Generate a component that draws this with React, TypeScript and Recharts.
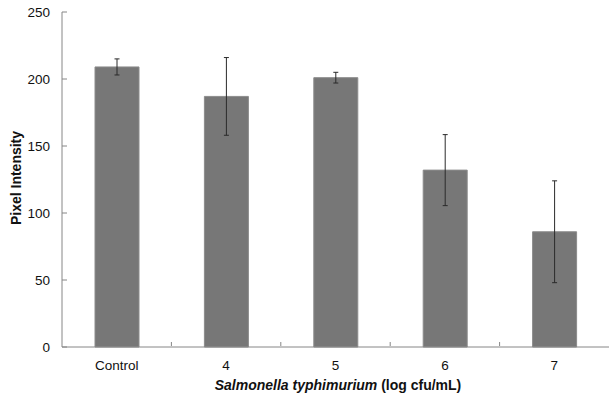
import React from 'react';
import { BarChart, Bar, XAxis, YAxis, ErrorBar } from 'recharts';

const categories = ['Control', '4', '5', '6', '7'];
const intensity = [209, 187, 201, 132, 86];
const errors = [6, 29, 4, 26.5, 38];
const yTicks = [0, 50, 100, 150, 200, 250];

const data = categories.map((name, i) => ({ name, value: intensity[i], err: errors[i] }));

const W = 611;
const H = 402;
const LEFT = 62;
const RIGHT = 2;
const BAND = (W - LEFT - RIGHT) / categories.length;
const FONT = 'Liberation Sans, Arial, sans-serif';

const YTick = (props: any) => {
  const { x, y, payload } = props;
  return (
    <g>
      <line x1={x + 12} y1={y} x2={x + 17} y2={y} stroke="#868686" />
      <text x={x} y={y} dy="0.35em" textAnchor="end" fontSize={13.5} fill="#111" fontFamily={FONT}>
        {payload.value}
      </text>
    </g>
  );
};

const XTick = (props: any) => {
  const { x, y, payload, index } = props;
  return (
    <g>
      {index < categories.length - 1 && (
        <line x1={x + BAND / 2} y1={y - 14} x2={x + BAND / 2} y2={y - 18} stroke="#868686" />
      )}
      <text x={x} y={y} dy="0.71em" textAnchor="middle" fontSize={13.5} fill="#111" fontFamily={FONT}>
        {payload.value}
      </text>
    </g>
  );
};

const App: React.FC = () => {
  return (
    <div style={{ position: 'absolute', left: 0, top: 0, width: W, height: H, background: '#fff' }}>
      <BarChart width={W} height={H} data={data} margin={{ top: 12, right: RIGHT, left: 0, bottom: 0 }}>
        <XAxis
          dataKey="name"
          height={55}
          axisLine={{ stroke: '#868686' }}
          tickLine={false}
          tickSize={0}
          tickMargin={13}
          tick={<XTick />}
          interval={0}
        />
        <YAxis
          width={LEFT}
          domain={[0, 250]}
          ticks={yTicks}
          axisLine={{ stroke: '#868686' }}
          tickLine={false}
          tickSize={0}
          tickMargin={12}
          tick={<YTick />}
          interval={0}
        />
        <Bar dataKey="value" fill="#777777" stroke="#8c8c8c" strokeWidth={1} barSize={44} isAnimationActive={false}>
          <ErrorBar dataKey="err" width={2.5} stroke="#2a2a2a" strokeWidth={1} isAnimationActive={false} />
        </Bar>
        <text
          x={16}
          y={178}
          transform="rotate(-90 16 178)"
          textAnchor="middle"
          dominantBaseline="central"
          fontSize={14}
          fontWeight="bold"
          fill="#111"
          fontFamily={FONT}
        >
          Pixel Intensity
        </text>
        <text x={338} y={390} textAnchor="middle" fontSize={14} fontWeight="bold" fill="#111" fontFamily={FONT}>
          <tspan fontStyle="italic">Salmonella typhimurium</tspan> (log cfu/mL)
        </text>
      </BarChart>
    </div>
  );
};

export default App;
